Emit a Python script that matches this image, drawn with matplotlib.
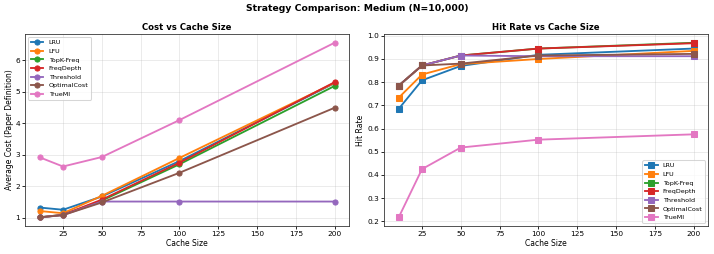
import matplotlib
matplotlib.use('Agg')
import matplotlib.pyplot as plt

cache_sizes = [10, 25, 50, 100, 200]
strategies = ['LRU', 'LFU', 'TopK-Freq', 'FreqDepth', 'Threshold', 'OptimalCost', 'TrueMI']

cost_lru = [1.33, 1.26, 1.68, 2.80, 5.27]
cost_lfu = [1.22, 1.15, 1.70, 2.90, 5.28]
cost_topk = [1.02, 1.10, 1.55, 2.70, 5.18]
cost_freqdepth = [1.02, 1.10, 1.58, 2.75, 5.30]
cost_threshold = [1.02, 1.09, 1.52, 1.52, 1.52]
cost_optimal = [1.02, 1.09, 1.49, 2.43, 4.49]
cost_truemi = [2.92, 2.63, 2.93, 4.10, 6.55]

hit_lru = [0.685, 0.808, 0.870, 0.918, 0.945]
hit_lfu = [0.733, 0.833, 0.878, 0.900, 0.935]
hit_topk = [0.785, 0.872, 0.915, 0.945, 0.970]
hit_freqdepth = [0.785, 0.872, 0.915, 0.945, 0.968]
hit_threshold = [0.785, 0.872, 0.915, 0.912, 0.912]
hit_optimal = [0.785, 0.872, 0.880, 0.915, 0.922]
hit_truemi = [0.217, 0.425, 0.518, 0.552, 0.575]

costs = [cost_lru, cost_lfu, cost_topk, cost_freqdepth, cost_threshold, cost_optimal, cost_truemi]
hits = [hit_lru, hit_lfu, hit_topk, hit_freqdepth, hit_threshold, hit_optimal, hit_truemi]

dpi = 74
fig, (ax1, ax2) = plt.subplots(1, 2, figsize=(714 / dpi, 254 / dpi), dpi=dpi)
fig.subplots_adjust(left=0.035, right=0.992, bottom=0.11, top=0.866, wspace=0.107)

for name, c in zip(strategies, costs):
    ax1.plot(cache_sizes, c, marker='o', linewidth=1.8, markersize=5, label=name)
ax1.set_xlabel('Cache Size', fontsize=7.4, labelpad=2)
ax1.set_ylabel('Average Cost (Paper Definition)', fontsize=7.4, labelpad=2)
ax1.set_title('Cost vs Cache Size', fontweight='bold', fontsize=8.3, pad=4)
ax1.legend(fontsize=6.2)
ax1.grid(True, alpha=0.3)

for name, h in zip(strategies, hits):
    ax2.plot(cache_sizes, h, marker='s', linewidth=1.8, markersize=5, label=name)
ax2.set_xlabel('Cache Size', fontsize=7.4, labelpad=2)
ax2.set_ylabel('Hit Rate', fontsize=7.4, labelpad=2)
ax2.set_title('Hit Rate vs Cache Size', fontweight='bold', fontsize=8.3, pad=4)
ax2.legend(fontsize=6.2)
ax2.grid(True, alpha=0.3)

for ax in (ax1, ax2):
    ax.tick_params(labelsize=7.2, length=2.5, pad=2)
    for s in ax.spines.values():
        s.set_color('#333333')

fig.suptitle('Strategy Comparison: Medium (N=10,000)', fontsize=9, fontweight='bold', y=0.985)
plt.savefig('out.png')
